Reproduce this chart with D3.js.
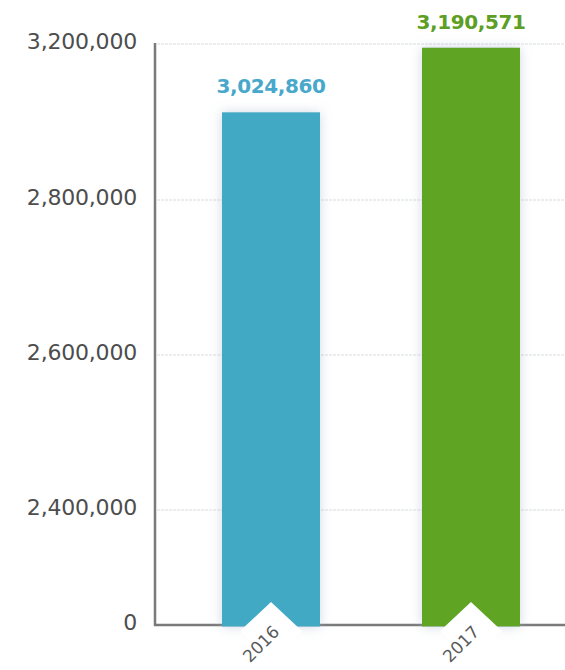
<!DOCTYPE html>
<html>
<head>
<meta charset="utf-8">
<script src="https://cdn.jsdelivr.net/npm/d3@7"></script>
<style>
  body { margin: 0; background: #fff; }
  svg { display: block; }
</style>
</head>
<body>
<div id="chart"></div>
<script>
const years = ['2016', '2017'];
const values = [3024860, 3190571];
const barColors = ['#42a9c4', '#5ea421'];
const labelColors = ['#47a8cb', '#5d9e24'];
const tickValues = [0, 2400000, 2600000, 2800000, 3200000];

const width = 565;
const height = 670;

const svg = d3.select('#chart')
  .append('svg')
  .attr('width', width)
  .attr('height', height);

// broken axis: each tick sits at its own row
const yScale = d3.scaleLinear()
  .domain(tickValues)
  .range([625, 510, 355, 200, 44]);

const xScale = d3.scaleBand()
  .domain(years)
  .range([155, 587])
  .paddingInner(0.51)
  .paddingOuter(0.335);

const defs = svg.append('defs');
const glow = defs.append('filter')
  .attr('id', 'glow')
  .attr('x', '-30%').attr('y', '-10%')
  .attr('width', '160%').attr('height', '120%');
glow.append('feDropShadow')
  .attr('dx', 0).attr('dy', 0)
  .attr('stdDeviation', 6)
  .attr('flood-color', '#a9b7cd')
  .attr('flood-opacity', 0.55);

// gridlines
svg.append('g')
  .selectAll('line')
  .data(tickValues.slice(1))
  .join('line')
  .attr('x1', 157)
  .attr('x2', width)
  .attr('y1', d => yScale(d))
  .attr('y2', d => yScale(d))
  .attr('stroke', '#d9dbe0')
  .attr('stroke-width', 1.2)
  .attr('stroke-dasharray', '3,1');

// y axis
const yAxis = svg.append('g')
  .attr('transform', 'translate(155,0)')
  .call(d3.axisLeft(yScale)
    .tickValues(tickValues)
    .tickSize(0)
    .tickPadding(18)
    .tickFormat(d3.format(',')));
yAxis.select('.domain').remove();
yAxis.selectAll('text')
  .attr('font-family', 'DejaVu Sans')
  .attr('font-size', 22)
  .attr('letter-spacing', -0.2)
  .attr('fill', '#4d4d4d')
  .attr('dy', '0.2em');

// axis lines
svg.append('line')
  .attr('x1', 155).attr('x2', 155)
  .attr('y1', yScale(3200000) - 1).attr('y2', yScale(0) + 1)
  .attr('stroke', '#7a7a7a')
  .attr('stroke-width', 2.5);
svg.append('line')
  .attr('x1', 154).attr('x2', width)
  .attr('y1', yScale(0)).attr('y2', yScale(0))
  .attr('stroke', '#7a7a7a')
  .attr('stroke-width', 2.5);

// bars
svg.append('g')
  .selectAll('rect')
  .data(values)
  .join('rect')
  .attr('x', (d, i) => xScale(years[i]))
  .attr('width', xScale.bandwidth())
  .attr('y', d => yScale(d))
  .attr('height', d => yScale(0) + 1.5 - yScale(d))
  .attr('fill', (d, i) => barColors[i])
  .attr('filter', 'url(#glow)');

// white notches under the bars
svg.append('g')
  .selectAll('path')
  .data(years)
  .join('path')
  .attr('d', d => {
    const c = xScale(d) + xScale.bandwidth() / 2;
    const y0 = yScale(0);
    return `M${c},${y0 - 23} L${c + 31},${y0 + 6} L${c},${y0 + 36} L${c - 31},${y0 + 6} Z`;
  })
  .attr('fill', '#fff');

// value labels
svg.append('g')
  .selectAll('text')
  .data(values)
  .join('text')
  .attr('x', (d, i) => xScale(years[i]) + xScale.bandwidth() / 2)
  .attr('y', d => yScale(d) - 19)
  .attr('text-anchor', 'middle')
  .attr('font-family', 'DejaVu Sans')
  .attr('font-weight', 'bold')
  .attr('font-size', 20)
  .attr('letter-spacing', -0.4)
  .attr('fill', (d, i) => labelColors[i])
  .text(d => d3.format(',')(d));

// year labels
svg.append('g')
  .selectAll('text')
  .data(years)
  .join('text')
  .attr('transform', d => {
    const c = xScale(d) + xScale.bandwidth() / 2;
    return `translate(${c - 10},${yScale(0) + 19}) rotate(-45)`;
  })
  .attr('text-anchor', 'middle')
  .attr('dy', '0.35em')
  .attr('font-family', 'DejaVu Sans')
  .attr('font-size', 17)
  .attr('fill', '#5a5a5a')
  .text(d => d);
</script>
</body>
</html>
